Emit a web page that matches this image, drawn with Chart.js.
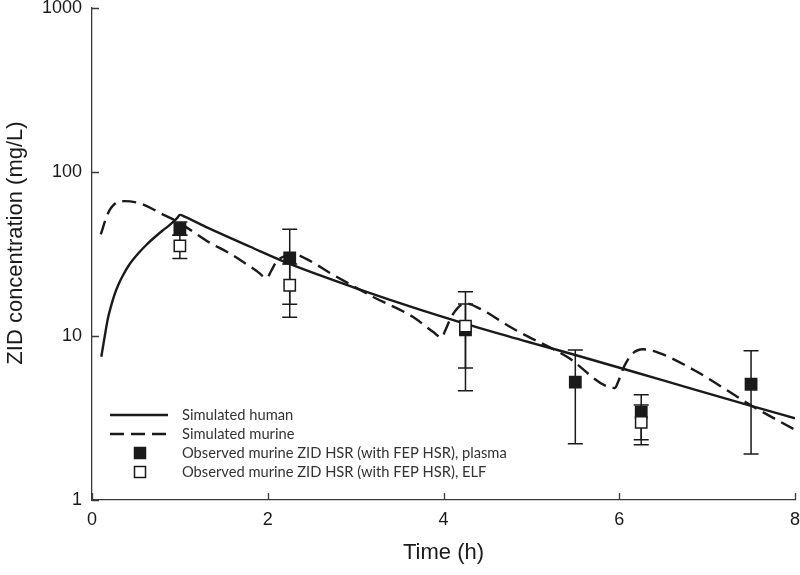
<!DOCTYPE html>
<html><head><meta charset="utf-8">
<script src="https://cdn.jsdelivr.net/npm/chart.js@4/dist/chart.umd.min.js"></script>
<style>html,body{margin:0;padding:0;background:#fff}canvas{display:block}</style>
</head><body>
<canvas id="c" width="800" height="575"></canvas>
<script>
// ---- data ----
const humanTime = [0.106, 0.144, 0.182, 0.22, 0.258, 0.3, 0.35, 0.42, 0.523, 0.62, 0.713, 0.8, 0.865, 0.93, 0.97, 1.0, 1.06, 1.32, 1.8, 2.25, 3.0, 3.73, 4.64, 5.5, 6.5, 7.5, 8];
const humanConc = [7.48, 9.9, 12.86, 15.43, 18.0, 20.56, 23.32, 27.0, 31.7, 36.0, 40.0, 43.8, 46.65, 50.0, 52.5, 54.8, 53.2, 45.6, 35, 27.5, 19.6, 14.5, 10.3, 7.66, 5.36, 3.75, 3.15];
const murineTime = [0.1, 0.18, 0.26, 0.37, 0.56, 0.79, 0.98, 1.32, 1.57, 1.87, 1.99, 2.04, 2.1, 2.2, 2.3, 2.45, 2.71, 3.2, 3.65, 3.88, 3.98, 4.02, 4.08, 4.16, 4.25, 4.4, 4.79, 5.4, 5.95, 5.99, 6.06, 6.15, 6.27, 6.45, 6.88, 7.52, 8];
const murineConc = [41.7, 55.7, 64, 66.4, 64, 55.7, 49.5, 37.6, 31.8, 25, 22.6, 25, 28.5, 30.8, 31.5, 29.3, 24.2, 17.3, 13.1, 10.6, 9.8, 10.8, 12.8, 14.8, 15.8, 14.8, 11.1, 7.5, 4.82, 5.3, 6.6, 7.8, 8.3, 7.9, 6.07, 3.72, 2.68];
const plasmaTime = [1, 2.25, 4.25, 5.5, 6.25, 7.5];
const plasmaConc = [45.2, 29.9, 10.9, 5.23, 3.42, 5.08];
const plasmaLow  = [41.1, 15.6, 4.63, 2.20, 2.33, 1.91];
const plasmaHigh = [49.5, 44.7, 18.6, 8.22, 4.38, 8.14];
const elfTime = [1, 2.25, 4.25, 6.25];
const elfConc = [35.4, 20.4, 11.5, 2.97];
const elfLow  = [29.7, 13.0, 6.37, 2.17];
const elfHigh = [41.1, 27.5, 15.65, 3.79];
const xTickValues = [0, 2, 4, 6, 8];
const yTickValues = [1, 10, 100, 1000];
const seriesNames = ['Simulated human', 'Simulated murine',
  'Observed murine ZID HSR (with FEP HSR), plasma', 'Observed murine ZID HSR (with FEP HSR), ELF'];
const xTitle = 'Time (h)';
const yTitle = 'ZID concentration (mg/L)';

const toXY = (xs, ys) => xs.map((x, i) => ({x, y: ys[i]}));
const INK = '#1a1a1a';
const AXIS = '#3a3a3a';
const TICKFONT = {family: 'Liberation Sans, Arial, sans-serif', size: 18, lineHeight: 1};

const errorBars = {
  id: 'errorBars',
  beforeDatasetsDraw(chart) {
    const {ctx, scales: {x, y}} = chart;
    ctx.save();
    ctx.strokeStyle = INK; ctx.lineWidth = 1.5;
    const cap = 7.5;
    const draw = (ts, lo, hi) => ts.forEach((t, i) => {
      const px = x.getPixelForValue(t);
      const y1 = y.getPixelForValue(lo[i]), y2 = y.getPixelForValue(hi[i]);
      ctx.beginPath();
      ctx.moveTo(px, y1); ctx.lineTo(px, y2);
      ctx.moveTo(px - cap, y1); ctx.lineTo(px + cap, y1);
      ctx.moveTo(px - cap, y2); ctx.lineTo(px + cap, y2);
      ctx.stroke();
    });
    draw(plasmaTime, plasmaLow, plasmaHigh);
    draw(elfTime, elfLow, elfHigh);
    ctx.restore();
  }
};

const axisDecor = {
  id: 'axisDecor',
  afterDraw(chart) {
    const {ctx, chartArea: a, scales: {x, y}} = chart;
    ctx.save();
    ctx.strokeStyle = AXIS; ctx.lineWidth = 1.3;
    ctx.beginPath();
    x.ticks.forEach(t => { const p = Math.round(x.getPixelForValue(t.value)) + 0.5; ctx.moveTo(p, a.bottom); ctx.lineTo(p, a.bottom - 7); });
    y.ticks.forEach(t => { const p = Math.round(y.getPixelForValue(t.value)) + 0.5; ctx.moveTo(a.left, p); ctx.lineTo(a.left + 7, p); });
    ctx.stroke();
    // y axis title
    ctx.fillStyle = INK;
    ctx.font = '22px "Liberation Sans", Arial, sans-serif';
    ctx.textAlign = 'center'; ctx.textBaseline = 'middle';
    ctx.translate(16, 243);
    ctx.rotate(-Math.PI / 2);
    ctx.fillText(yTitle, 0, 0);
    ctx.restore();
  }
};

const legendPlugin = {
  id: 'customLegend',
  afterDraw(chart) {
    const ctx = chart.ctx;
    const ds = chart.data.datasets;
    const rowY = [415, 434, 453, 472];
    const x0 = 110, x1 = 168, xc = 140, tx = 182;
    ctx.save();
    ctx.font = '14.7px Lato, "Open Sans", sans-serif';
    ctx.textBaseline = 'middle'; ctx.textAlign = 'left';
    const order = [2, 3, 1, 0]; // dataset index for each legend row
    order.forEach((di, r) => {
      const d = ds[di];
      const yy = rowY[r];
      if (d.showLine) {
        ctx.strokeStyle = d.borderColor; ctx.lineWidth = d.borderWidth;
        ctx.setLineDash(d.borderDash || []);
        ctx.beginPath(); ctx.moveTo(x0, yy); ctx.lineTo(x1, yy); ctx.stroke();
        ctx.setLineDash([]);
      } else {
        ctx.fillStyle = d.pointBackgroundColor; ctx.strokeStyle = d.pointBorderColor; ctx.lineWidth = 1.5;
        ctx.fillRect(xc - 5.5, yy - 5.5, 11, 11);
        ctx.strokeRect(xc - 5.5, yy - 5.5, 11, 11);
      }
      ctx.fillStyle = '#333';
      ctx.fillText(d.label, tx, yy);
    });
    ctx.restore();
  }
};

new Chart(document.getElementById('c'), {
  type: 'scatter',
  data: {
    datasets: [
      {label: seriesNames[3], data: toXY(elfTime, elfConc), showLine: false,
       pointStyle: 'rect', pointRadius: 8, pointHoverRadius: 8,
       pointBackgroundColor: '#ffffff', pointBorderColor: INK, pointBorderWidth: 1.5},
      {label: seriesNames[2], data: toXY(plasmaTime, plasmaConc), showLine: false,
       pointStyle: 'rect', pointRadius: 8, pointHoverRadius: 8,
       pointBackgroundColor: INK, pointBorderColor: INK, pointBorderWidth: 1.5},
      {label: seriesNames[0], data: toXY(humanTime, humanConc), showLine: true,
       borderColor: INK, borderWidth: 2.4, pointRadius: 0, cubicInterpolationMode: 'monotone', fill: false},
      {label: seriesNames[1], data: toXY(murineTime, murineConc), showLine: true,
       borderColor: INK, borderWidth: 2.4, borderDash: [14, 7], pointRadius: 0, cubicInterpolationMode: 'monotone', fill: false}
    ]
  },
  options: {
    responsive: false, animation: false, devicePixelRatio: 1,
    layout: {autoPadding: false, padding: {left: 0, right: 5, top: 8, bottom: 0}},
    plugins: {legend: {display: false}, tooltip: {enabled: false}},
    scales: {
      x: {
        type: 'linear', min: 0, max: 8, position: 'bottom',
        afterBuildTicks: s => { s.ticks = xTickValues.map(v => ({value: v})); },
        afterFit: s => { s.height = 75; s.paddingLeft = 0; s.paddingRight = 0; },
        grid: {display: false, drawTicks: false},
        border: {display: true, color: AXIS, width: 1.3},
        ticks: {font: TICKFONT, color: INK, padding: 11, maxRotation: 0, callback: v => String(v)},
        title: {display: true, text: xTitle, color: INK,
                font: {family: 'Liberation Sans, Arial, sans-serif', size: 22, lineHeight: 1.2}, padding: {top: 0, bottom: 9}}
      },
      y: {
        type: 'logarithmic', min: 1, max: 1000, position: 'left',
        afterBuildTicks: s => { s.ticks = yTickValues.map(v => ({value: v})); },
        afterFit: s => { s.width = 92; s.paddingTop = 0; s.paddingBottom = 0; },
        grid: {display: false, drawTicks: false},
        border: {display: true, color: AXIS, width: 1.3},
        ticks: {font: TICKFONT, color: INK, padding: 10, callback: v => String(v)}
      }
    }
  },
  plugins: [errorBars, axisDecor, legendPlugin]
});
</script>
</body></html>
